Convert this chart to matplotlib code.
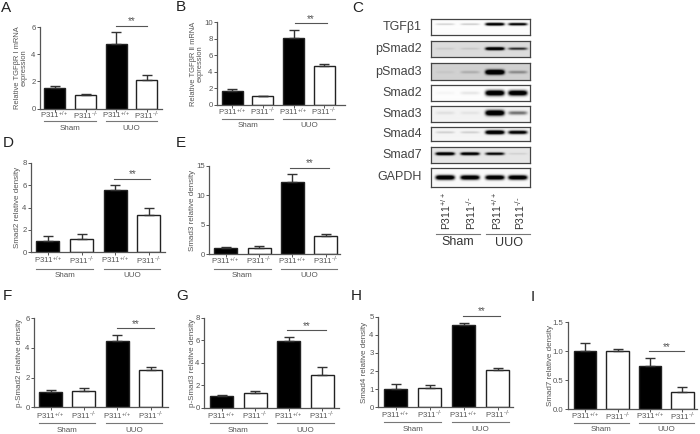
import numpy as np
import matplotlib
matplotlib.use('Agg')
import matplotlib.pyplot as plt

plt.rcParams['font.family'] = ['Liberation Sans', 'DejaVu Sans']
plt.rcParams['mathtext.default'] = 'regular'

W, H = 700, 434
TXT = '#555555'

# bar values
genotypes = [r'P311$^{+/+}$', r'P311$^{\text{-/-}}$', r'P311$^{+/+}$', r'P311$^{\text{-/-}}$']
groups = ['Sham', 'UUO']

a_means = [1.55, 1.0, 4.75, 2.1]
a_errs = [0.15, 0.1, 0.85, 0.35]
b_means = [1.7, 1.0, 8.1, 4.7]
b_errs = [0.15, 0.1, 0.95, 0.2]
d_means = [1.0, 1.2, 5.55, 3.35]
d_errs = [0.5, 0.4, 0.45, 0.6]
e_means = [1.0, 1.15, 12.2, 3.05]
e_errs = [0.3, 0.25, 1.45, 0.35]
f_means = [1.0, 1.12, 4.45, 2.5]
f_errs = [0.15, 0.2, 0.42, 0.25]
g_means = [1.0, 1.28, 5.92, 2.95]
g_errs = [0.1, 0.2, 0.4, 0.65]
h_means = [1.0, 1.05, 4.52, 2.08]
h_errs = [0.28, 0.17, 0.13, 0.1]
i_means = [1.0, 1.0, 0.75, 0.3]
i_errs = [0.15, 0.04, 0.14, 0.08]

# western blot: band strength per lane (0-1), and how dark the membrane is
blot_names = ['TGFβ1', 'pSmad2', 'pSmad3', 'Smad2', 'Smad3', 'Smad4', 'Smad7', 'GAPDH']
blot_bands = [
    [0.12, 0.14, 0.95, 0.8],
    [0.05, 0.06, 0.9, 0.5],
    [0.03, 0.1, 1.0, 0.2],
    [0.02, 0.06, 1.0, 0.95],
    [0.05, 0.04, 1.0, 0.35],
    [0.1, 0.1, 1.0, 0.8],
    [0.9, 0.85, 0.7, 0.06],
    [1.0, 0.95, 0.95, 0.95],
]
blot_backgrounds = [0.01, 0.14, 0.18, 0.01, 0.05, 0.04, 0.1, 0.02]
blot_thickness = [0.09, 0.1, 0.14, 0.17, 0.17, 0.13, 0.1, 0.12]
blot_rows = [0.32, 0.48, 0.54, 0.5, 0.43, 0.42, 0.42, 0.5]

fig = plt.figure(figsize=(7.0, 4.34), dpi=100)


def add_px_axes(left, right, top, bottom):
    return fig.add_axes([left / W, 1 - bottom / H, (right - left) / W, (bottom - top) / H])


def bar_panel(means, errs, ylabel, yticks, ticklabels, box, first_c, pitch, bar_w, bracket, under,
              label_x, label_size=5.8):
    left, right, top, bottom = box
    tick_off, line_off, group_off = under
    ax = add_px_axes(left, right, top, bottom)
    ax.set_xlim((left - first_c) / pitch, (right - first_c) / pitch)
    ax.set_ylim(0, yticks[-1])
    x = np.arange(4)
    colors = ['black', 'white', 'black', 'white']
    ax.bar(x, means, width=bar_w / pitch, color=colors, edgecolor='#222222', linewidth=1.0, zorder=2)
    for xi, m, e in zip(x, means, errs):
        ax.errorbar(xi, m, yerr=[[0], [e]], color='#333333', capsize=3.5, elinewidth=1.0,
                    capthick=1.0, zorder=3)
    for s in ['top', 'right']:
        ax.spines[s].set_visible(False)
    for s in ['left', 'bottom']:
        ax.spines[s].set_linewidth(0.9)
        ax.spines[s].set_color('#555555')
    ax.set_yticks(yticks, ticklabels)
    ax.set_xticks(x, genotypes)
    ax.tick_params(axis='both', labelsize=5.6, colors=TXT, length=2, width=0.7, pad=1.2)
    # baseline so that +/+ and -/- labels sit on one line
    ax.tick_params(axis='x', pad=(tick_off + 2.8 - 2.8) * 0.72)
    for lab in ax.get_xticklabels():
        lab.set_verticalalignment('baseline')
    ax.set_ylabel(ylabel, fontsize=label_size, color=TXT, linespacing=1.05)
    ax.yaxis.label.set_verticalalignment('center')
    ax.yaxis.set_label_coords((label_x - left) / (right - left), 0.5)

    # group lines and names under the axis
    height = bottom - top
    trans = ax.get_xaxis_transform()
    for k, name in enumerate(groups):
        x0 = 2 * k - 0.5 * bar_w / pitch
        x1 = 2 * k + 1 + 0.5 * bar_w / pitch
        ax.plot([x0, x1], [-line_off / height] * 2, transform=trans, color='#777777', lw=0.8, clip_on=False)
        ax.text((x0 + x1) / 2, -group_off / height, name, transform=trans, ha='center', va='center',
                fontsize=5.8, color=TXT)

    # significance line
    by, bx0, bx1 = bracket
    ax.plot([bx0, bx1], [by, by], color='#555555', lw=0.8, clip_on=False)
    ax.annotate('**', ((bx0 + bx1) / 2, by), xytext=(0, -0.5), textcoords='offset points',
                ha='center', va='bottom', fontsize=7, color=TXT, annotation_clip=False)
    return ax


bar_panel(a_means, a_errs, 'Relative TGFβR Ⅰ mRNA\nexpression', [0, 2, 4, 6], ['0', '2', '4', '6'],
          (40, 162, 27, 108.7), 54.8, 30.7, 21, (6.1, 1.99, 3.0), (7.4, 12.5, 19.7), 21, 5.4)
bar_panel(b_means, b_errs, 'Relative TGFβR Ⅱ mRNA\nexpression', [0, 2, 4, 6, 8, 10],
          ['0', '2', '4', '6', '8', '10'],
          (217, 345, 22.3, 104.7), 232.3, 30.6, 21, (9.9, 2.04, 3.1), (7.6, 14.6, 20.6), 197, 5.4)
bar_panel(d_means, d_errs, 'Smad2 relative density', [0, 2, 4, 6, 8], ['0', '2', '4', '6', '8'],
          (31, 165, 162.7, 252.3), 48, 33.6, 23, (6.57, 1.97, 3.05), (8.7, 17, 23), 17.5)
bar_panel(e_means, e_errs, 'Smad3 relative density', [0, 5, 10, 15], ['0', '5', '10', '15'],
          (209, 340, 165.7, 254.3), 225.7, 33.3, 23, (14.66, 1.93, 3.1), (7.4, 15, 21), 192)
bar_panel(f_means, f_errs, 'p-Smad2 relative density', [0, 2, 4, 6], ['0', '2', '4', '6'],
          (34, 168, 318.3, 407.3), 50.5, 33.4, 23, (5.35, 1.98, 3.1), (9.4, 15.4, 22.7), 20)
bar_panel(g_means, g_errs, 'p-Smad3 relative density', [0, 2, 4, 6, 8], ['0', '2', '4', '6', '8'],
          (204, 339, 317.7, 407.7), 221.5, 33.6, 23, (6.9, 1.95, 3.1), (9, 15, 22.3), 192)
bar_panel(h_means, h_errs, 'Smad4 relative density', [0, 1, 2, 3, 4, 5], ['0', '1', '2', '3', '4', '5'],
          (378, 513, 316.7, 407.3), 395.8, 33.9, 23, (5.05, 1.97, 3.07), (8.4, 14.7, 22), 365)
bar_panel(i_means, i_errs, 'Smad7 relative density', [0, 0.5, 1.0, 1.5], ['0.0', '0.5', '1.0', '1.5'],
          (568, 697, 322.3, 409), 585.2, 32.4, 22.3, (1.0, 1.97, 3.05), (8, 13.7, 20.3), 550)

# blot strips
lane_pos = [0.14, 0.39, 0.64, 0.87]
blot_tops = [19, 41.3, 63.3, 84.7, 106, 126.7, 146.7, 168.3]
blot_bottoms = [35, 57.3, 80, 100.7, 121.7, 141.3, 162.7, 186.7]
xx, yy = np.meshgrid(np.linspace(0, 1, 200), np.linspace(0, 1, 36))
for idx, name in enumerate(blot_names):
    t, b = blot_tops[idx], blot_bottoms[idx]
    ax = add_px_axes(431, 530, t, b)
    img = np.full(xx.shape, blot_backgrounds[idx])
    for pos, strength in zip(lane_pos, blot_bands[idx]):
        # stronger bands come out thicker on the film
        thick = blot_thickness[idx] * (0.55 + 0.45 * strength)
        img += 1.5 * strength * np.exp(-((xx - pos) / 0.095) ** 6 - ((yy - blot_rows[idx]) / thick) ** 2)
    ax.imshow(np.clip(img, 0, 1), cmap='gray_r', vmin=0, vmax=1, aspect='auto', interpolation='bilinear')
    ax.set_xticks([])
    ax.set_yticks([])
    for s in ax.spines.values():
        s.set_linewidth(0.9)
        s.set_color('#444444')
    fig.text(422 / W, 1 - (t + b) / 2 / H, name, ha='right', va='center', fontsize=9, color='#444444')

# lane labels and groups under the blots
for xp, lab in zip([446, 471, 497, 520], genotypes):
    fig.text(xp / W, 1 - 230 / H, lab, rotation=90, ha='center', va='bottom', fontsize=7.5, color='#333333')
fig.add_artist(plt.Line2D([436 / W, 480 / W], [1 - 233.5 / H] * 2, color='#777777', lw=0.8))
fig.add_artist(plt.Line2D([486 / W, 530 / W], [1 - 233.5 / H] * 2, color='#777777', lw=0.8))
fig.text(458 / W, 1 - 242 / H, groups[0], ha='center', va='center', fontsize=9, color='#333333')
fig.text(509 / W, 1 - 243 / H, groups[1], ha='center', va='center', fontsize=9, color='#333333')

# panel letters
letters = ['A', 'B', 'C', 'D', 'E', 'F', 'G', 'H', 'I']
letter_x = [1, 176, 352, 3, 176, 3, 176, 351, 531]
letter_y = [8, 7, 8, 143, 143, 296, 296, 296, 297]
for ch, lx, ly in zip(letters, letter_x, letter_y):
    fig.text(lx / W, 1 - ly / H, ch, ha='left', va='center', fontsize=11, color='#222222')

fig.savefig('out.png', dpi=100)
